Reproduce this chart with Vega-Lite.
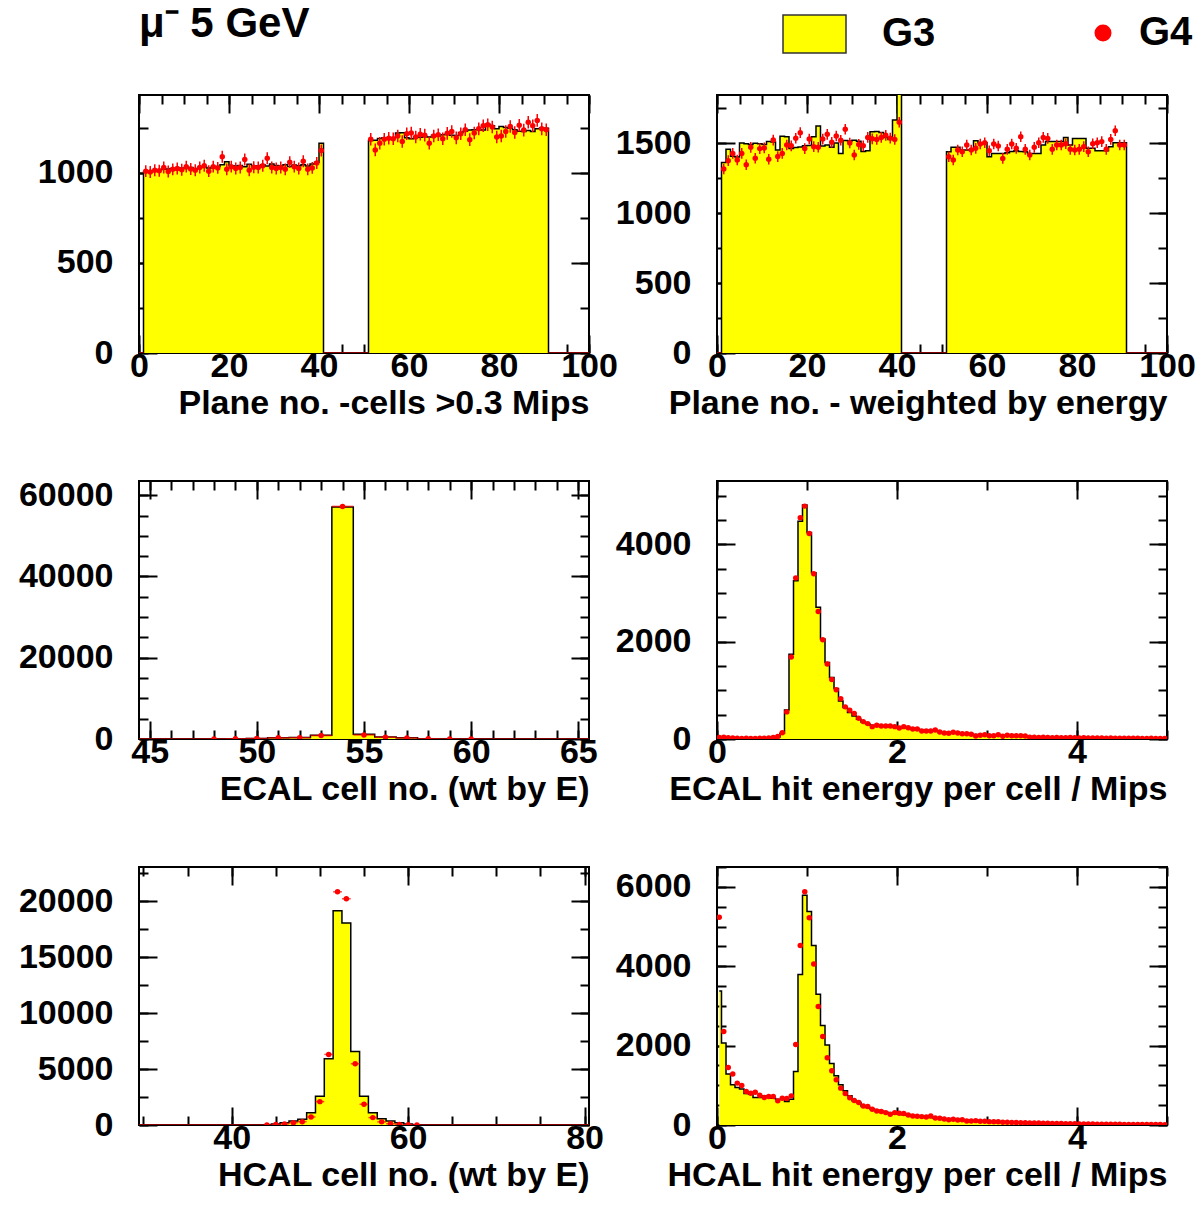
{
"$schema": "https://vega.github.io/schema/vega-lite/v6.json",
"background": "white",
"padding": {"left": 17, "top": 0, "right": 5, "bottom": 5},
"config": {
 "view": {"stroke": "black", "strokeWidth": 2},
 "numberFormat": "d",
 "axis": {"domain": false, "grid": false, "labelFont": "Liberation Sans", "labelFontWeight": "bold", "labelFontSize": 34, "labelColor": "black", "titleFont": "Liberation Sans", "titleFontWeight": "bold", "titleFontSize": 34, "titleColor": "black", "tickColor": "black", "tickWidth": 2, "labelFlush": false, "labelOverlap": false}
},
"datasets": {
"p1": [
{"x":0.5,"a":0,"b":0},
{"x":1.5,"a":1005,"b":1010,"l":977,"h":1043},{"x":2.5,"a":1008,"b":1005,"l":972,"h":1038},{"x":3.5,"a":1012,"b":1015,"l":982,"h":1048},{"x":4.5,"a":1015,"b":1012,"l":979,"h":1045},{"x":5.5,"a":1020,"b":1030,"l":997,"h":1063},{"x":6.5,"a":1022,"b":1008,"l":975,"h":1041},{"x":7.5,"a":1025,"b":1020,"l":987,"h":1053},{"x":8.5,"a":1018,"b":1025,"l":992,"h":1058},{"x":9.5,"a":1028,"b":1018,"l":985,"h":1051},{"x":10.5,"a":1025,"b":1035,"l":1002,"h":1068},
{"x":11.5,"a":1030,"b":1022,"l":989,"h":1055},{"x":12.5,"a":1022,"b":1015,"l":982,"h":1048},{"x":13.5,"a":1030,"b":1030,"l":997,"h":1063},{"x":14.5,"a":1035,"b":1040,"l":1007,"h":1073},{"x":15.5,"a":1028,"b":1010,"l":977,"h":1043},{"x":16.5,"a":1032,"b":1035,"l":1002,"h":1068},{"x":17.5,"a":1036,"b":1028,"l":995,"h":1061},{"x":18.5,"a":1045,"b":1090,"l":1057,"h":1123},{"x":19.5,"a":1062,"b":1020,"l":987,"h":1053},{"x":20.5,"a":1040,"b":1035,"l":1002,"h":1068},
{"x":21.5,"a":1038,"b":1025,"l":992,"h":1058},{"x":22.5,"a":1042,"b":1030,"l":997,"h":1063},{"x":23.5,"a":1035,"b":1075,"l":1042,"h":1108},{"x":24.5,"a":1048,"b":1015,"l":982,"h":1048},{"x":25.5,"a":1036,"b":1032,"l":999,"h":1065},{"x":26.5,"a":1040,"b":1030,"l":997,"h":1063},{"x":27.5,"a":1045,"b":1040,"l":1007,"h":1073},{"x":28.5,"a":1038,"b":1082,"l":1049,"h":1115},{"x":29.5,"a":1050,"b":1030,"l":997,"h":1063},{"x":30.5,"a":1042,"b":1025,"l":992,"h":1058},
{"x":31.5,"a":1040,"b":1030,"l":997,"h":1063},{"x":32.5,"a":1045,"b":1020,"l":987,"h":1053},{"x":33.5,"a":1036,"b":1060,"l":1027,"h":1093},{"x":34.5,"a":1044,"b":1035,"l":1002,"h":1068},{"x":35.5,"a":1040,"b":1025,"l":992,"h":1058},{"x":36.5,"a":1046,"b":1065,"l":1032,"h":1098},{"x":37.5,"a":1038,"b":1020,"l":987,"h":1053},{"x":38.5,"a":1050,"b":1028,"l":995,"h":1061},{"x":39.5,"a":1060,"b":1055,"l":1022,"h":1088},{"x":40.5,"a":1165,"b":1125,"l":1092,"h":1158},
{"x":41.5,"a":0,"b":0},{"x":42.5,"a":0,"b":0},{"x":43.5,"a":0,"b":0},{"x":44.5,"a":0,"b":0},{"x":45.5,"a":0,"b":0},{"x":46.5,"a":0,"b":0},{"x":47.5,"a":0,"b":0},{"x":48.5,"a":0,"b":0},{"x":49.5,"a":0,"b":0},{"x":50.5,"a":0,"b":0},
{"x":51.5,"a":1180,"b":1187,"l":1152,"h":1222},{"x":52.5,"a":1182,"b":1128,"l":1093,"h":1163},{"x":53.5,"a":1192,"b":1165,"l":1130,"h":1200},{"x":54.5,"a":1195,"b":1187,"l":1152,"h":1222},{"x":55.5,"a":1194,"b":1193,"l":1158,"h":1228},{"x":56.5,"a":1196,"b":1190,"l":1155,"h":1225},{"x":57.5,"a":1222,"b":1205,"l":1170,"h":1240},{"x":58.5,"a":1224,"b":1175,"l":1140,"h":1210},{"x":59.5,"a":1195,"b":1218,"l":1183,"h":1253},{"x":60.5,"a":1190,"b":1222,"l":1187,"h":1257},
{"x":61.5,"a":1200,"b":1200,"l":1165,"h":1235},{"x":62.5,"a":1198,"b":1215,"l":1180,"h":1250},{"x":63.5,"a":1202,"b":1210,"l":1175,"h":1245},{"x":64.5,"a":1200,"b":1165,"l":1130,"h":1200},{"x":65.5,"a":1210,"b":1205,"l":1170,"h":1240},{"x":66.5,"a":1205,"b":1212,"l":1177,"h":1247},{"x":67.5,"a":1212,"b":1190,"l":1155,"h":1225},{"x":68.5,"a":1215,"b":1220,"l":1185,"h":1255},{"x":69.5,"a":1210,"b":1230,"l":1195,"h":1265},{"x":70.5,"a":1208,"b":1195,"l":1160,"h":1230},
{"x":71.5,"a":1225,"b":1218,"l":1183,"h":1253},{"x":72.5,"a":1232,"b":1240,"l":1205,"h":1275},{"x":73.5,"a":1238,"b":1185,"l":1150,"h":1220},{"x":74.5,"a":1240,"b":1222,"l":1187,"h":1257},{"x":75.5,"a":1242,"b":1245,"l":1210,"h":1280},{"x":76.5,"a":1238,"b":1262,"l":1227,"h":1297},{"x":77.5,"a":1270,"b":1268,"l":1233,"h":1303},{"x":78.5,"a":1262,"b":1255,"l":1220,"h":1290},{"x":79.5,"a":1245,"b":1200,"l":1165,"h":1235},{"x":80.5,"a":1258,"b":1205,"l":1170,"h":1240},
{"x":81.5,"a":1252,"b":1230,"l":1195,"h":1265},{"x":82.5,"a":1248,"b":1258,"l":1223,"h":1293},{"x":83.5,"a":1240,"b":1225,"l":1190,"h":1260},{"x":84.5,"a":1232,"b":1265,"l":1230,"h":1300},{"x":85.5,"a":1230,"b":1238,"l":1203,"h":1273},{"x":86.5,"a":1236,"b":1282,"l":1247,"h":1317},{"x":87.5,"a":1230,"b":1262,"l":1227,"h":1297},{"x":88.5,"a":1245,"b":1292,"l":1257,"h":1327},{"x":89.5,"a":1250,"b":1245,"l":1210,"h":1280},{"x":90.5,"a":1248,"b":1240,"l":1205,"h":1275},
{"x":91.5,"a":0,"b":0},{"x":92.5,"a":0,"b":0},{"x":93.5,"a":0,"b":0},{"x":94.5,"a":0,"b":0},{"x":95.5,"a":0,"b":0},{"x":96.5,"a":0,"b":0},{"x":97.5,"a":0,"b":0},{"x":98.5,"a":0,"b":0},{"x":99.5,"a":0,"b":0}
],
"p2": [
{"x":0.5,"a":0,"b":0},
{"x":1.5,"a":1360,"b":1314,"l":1276,"h":1352},{"x":2.5,"a":1455,"b":1374,"l":1336,"h":1412},{"x":3.5,"a":1405,"b":1426,"l":1388,"h":1464},{"x":4.5,"a":1400,"b":1379,"l":1341,"h":1417},{"x":5.5,"a":1500,"b":1426,"l":1388,"h":1464},{"x":6.5,"a":1495,"b":1345,"l":1307,"h":1383},{"x":7.5,"a":1490,"b":1469,"l":1431,"h":1507},{"x":8.5,"a":1498,"b":1391,"l":1353,"h":1429},{"x":9.5,"a":1495,"b":1460,"l":1422,"h":1498},{"x":10.5,"a":1490,"b":1465,"l":1427,"h":1503},
{"x":11.5,"a":1510,"b":1384,"l":1346,"h":1422},{"x":12.5,"a":1508,"b":1521,"l":1483,"h":1559},{"x":13.5,"a":1450,"b":1403,"l":1365,"h":1441},{"x":14.5,"a":1548,"b":1426,"l":1388,"h":1464},{"x":15.5,"a":1545,"b":1486,"l":1448,"h":1524},{"x":16.5,"a":1460,"b":1480,"l":1442,"h":1518},{"x":17.5,"a":1468,"b":1534,"l":1496,"h":1572},{"x":18.5,"a":1472,"b":1574,"l":1536,"h":1612},{"x":19.5,"a":1480,"b":1460,"l":1422,"h":1498},{"x":20.5,"a":1482,"b":1529,"l":1491,"h":1567},
{"x":21.5,"a":1545,"b":1474,"l":1436,"h":1512},{"x":22.5,"a":1622,"b":1470,"l":1432,"h":1508},{"x":23.5,"a":1478,"b":1528,"l":1490,"h":1566},{"x":24.5,"a":1485,"b":1562,"l":1524,"h":1600},{"x":25.5,"a":1470,"b":1505,"l":1467,"h":1543},{"x":26.5,"a":1500,"b":1550,"l":1512,"h":1588},{"x":27.5,"a":1425,"b":1520,"l":1482,"h":1558},{"x":28.5,"a":1518,"b":1598,"l":1560,"h":1636},{"x":29.5,"a":1515,"b":1500,"l":1462,"h":1538},{"x":30.5,"a":1520,"b":1414,"l":1376,"h":1452},
{"x":31.5,"a":1512,"b":1490,"l":1452,"h":1528},{"x":32.5,"a":1440,"b":1480,"l":1442,"h":1518},{"x":33.5,"a":1445,"b":1540,"l":1502,"h":1578},{"x":34.5,"a":1580,"b":1530,"l":1492,"h":1568},{"x":35.5,"a":1582,"b":1525,"l":1487,"h":1563},{"x":36.5,"a":1575,"b":1540,"l":1502,"h":1578},{"x":37.5,"a":1540,"b":1555,"l":1517,"h":1593},{"x":38.5,"a":1525,"b":1535,"l":1497,"h":1573},{"x":39.5,"a":1665,"b":1525,"l":1487,"h":1563},{"x":40.5,"a":1950,"b":1648,"l":1610,"h":1686},
{"x":41.5,"a":0,"b":0},{"x":42.5,"a":0,"b":0},{"x":43.5,"a":0,"b":0},{"x":44.5,"a":0,"b":0},{"x":45.5,"a":0,"b":0},{"x":46.5,"a":0,"b":0},{"x":47.5,"a":0,"b":0},{"x":48.5,"a":0,"b":0},{"x":49.5,"a":0,"b":0},{"x":50.5,"a":0,"b":0},
{"x":51.5,"a":1438,"b":1402,"l":1364,"h":1440},{"x":52.5,"a":1469,"b":1379,"l":1341,"h":1417},{"x":53.5,"a":1469,"b":1450,"l":1412,"h":1488},{"x":54.5,"a":1450,"b":1438,"l":1400,"h":1476},{"x":55.5,"a":1450,"b":1486,"l":1448,"h":1524},{"x":56.5,"a":1450,"b":1450,"l":1412,"h":1488},{"x":57.5,"a":1517,"b":1462,"l":1424,"h":1500},{"x":58.5,"a":1502,"b":1493,"l":1455,"h":1531},{"x":59.5,"a":1502,"b":1502,"l":1464,"h":1540},{"x":60.5,"a":1402,"b":1445,"l":1407,"h":1483},
{"x":61.5,"a":1426,"b":1493,"l":1455,"h":1531},{"x":62.5,"a":1426,"b":1479,"l":1441,"h":1517},{"x":63.5,"a":1426,"b":1390,"l":1352,"h":1428},{"x":64.5,"a":1431,"b":1455,"l":1417,"h":1493},{"x":65.5,"a":1440,"b":1493,"l":1455,"h":1531},{"x":66.5,"a":1445,"b":1462,"l":1424,"h":1500},{"x":67.5,"a":1440,"b":1545,"l":1507,"h":1583},{"x":68.5,"a":1438,"b":1455,"l":1417,"h":1493},{"x":69.5,"a":1426,"b":1414,"l":1376,"h":1452},{"x":70.5,"a":1426,"b":1469,"l":1431,"h":1507},
{"x":71.5,"a":1426,"b":1502,"l":1464,"h":1540},{"x":72.5,"a":1486,"b":1540,"l":1502,"h":1578},{"x":73.5,"a":1510,"b":1533,"l":1495,"h":1571},{"x":74.5,"a":1510,"b":1455,"l":1417,"h":1493},{"x":75.5,"a":1510,"b":1486,"l":1448,"h":1524},{"x":76.5,"a":1510,"b":1486,"l":1448,"h":1524},{"x":77.5,"a":1540,"b":1495,"l":1457,"h":1533},{"x":78.5,"a":1486,"b":1455,"l":1417,"h":1493},{"x":79.5,"a":1533,"b":1450,"l":1412,"h":1488},{"x":80.5,"a":1533,"b":1455,"l":1417,"h":1493},
{"x":81.5,"a":1533,"b":1474,"l":1436,"h":1512},{"x":82.5,"a":1462,"b":1438,"l":1400,"h":1476},{"x":83.5,"a":1462,"b":1495,"l":1457,"h":1533},{"x":84.5,"a":1445,"b":1502,"l":1464,"h":1540},{"x":85.5,"a":1445,"b":1510,"l":1472,"h":1548},{"x":86.5,"a":1445,"b":1455,"l":1417,"h":1493},{"x":87.5,"a":1474,"b":1526,"l":1488,"h":1564},{"x":88.5,"a":1502,"b":1588,"l":1550,"h":1626},{"x":89.5,"a":1502,"b":1486,"l":1448,"h":1524},{"x":90.5,"a":1502,"b":1486,"l":1448,"h":1524},
{"x":91.5,"a":0,"b":0},{"x":92.5,"a":0,"b":0},{"x":93.5,"a":0,"b":0},{"x":94.5,"a":0,"b":0},{"x":95.5,"a":0,"b":0},{"x":96.5,"a":0,"b":0},{"x":97.5,"a":0,"b":0},{"x":98.5,"a":0,"b":0},{"x":99.5,"a":0,"b":0}
],
"p3": [
{"x":45,"a":0,"b":0},{"x":46,"a":0,"b":0},{"x":47,"a":0,"b":0},{"x":48,"a":30,"b":20},{"x":49,"a":60,"b":50},{"x":50,"a":150,"b":120},{"x":51,"a":300,"b":280},{"x":52,"a":350,"b":320},{"x":53,"a":900,"b":850},{"x":54,"a":57100,"b":57250},{"x":55,"a":1150,"b":1000},{"x":56,"a":500,"b":450},{"x":57,"a":300,"b":250},{"x":58,"a":80,"b":70},{"x":59,"a":30,"b":25},{"x":60,"a":10,"b":10},{"x":61,"a":0,"b":0},{"x":62,"a":0,"b":0},{"x":63,"a":0,"b":0},{"x":64,"a":0,"b":0},{"x":65,"a":0,"b":0}
],
"p4": [
{"x":0.025,"a":20,"b":30},{"x":0.075,"a":25,"b":35},{"x":0.125,"a":20,"b":25},{"x":0.175,"a":15,"b":20},{"x":0.225,"a":10,"b":15},{"x":0.275,"a":10,"b":12},{"x":0.325,"a":15,"b":15},{"x":0.375,"a":10,"b":12},{"x":0.425,"a":10,"b":10},{"x":0.475,"a":12,"b":15},
{"x":0.525,"a":15,"b":18},{"x":0.575,"a":20,"b":22},{"x":0.625,"a":25,"b":30},{"x":0.675,"a":40,"b":50},{"x":0.725,"a":117,"b":130},{"x":0.775,"a":598,"b":557},{"x":0.825,"a":1739,"b":1684},{"x":0.875,"a":3251,"b":3306},{"x":0.925,"a":4475,"b":4544},{"x":0.975,"a":4805,"b":4784},
{"x":1.025,"a":4241,"b":4220},{"x":1.075,"a":3416,"b":3396},{"x":1.125,"a":2708,"b":2619},{"x":1.175,"a":2055,"b":2041},{"x":1.225,"a":1574,"b":1540},{"x":1.275,"a":1264,"b":1223},{"x":1.325,"a":1037,"b":1010},{"x":1.375,"a":783,"b":825},{"x":1.425,"a":646,"b":660},{"x":1.475,"a":543,"b":591},
{"x":1.525,"a":474,"b":522},{"x":1.575,"a":406,"b":426},{"x":1.625,"a":350,"b":357},{"x":1.675,"a":310,"b":316},{"x":1.725,"a":280,"b":254},{"x":1.775,"a":270,"b":282},{"x":1.825,"a":265,"b":268},{"x":1.875,"a":262,"b":268},{"x":1.925,"a":260,"b":268},{"x":1.975,"a":250,"b":254},
{"x":2.025,"a":240,"b":225},{"x":2.075,"a":238,"b":254},{"x":2.125,"a":232,"b":233},{"x":2.175,"a":215,"b":206},{"x":2.225,"a":205,"b":206},{"x":2.275,"a":190,"b":165},{"x":2.325,"a":180,"b":165},{"x":2.375,"a":172,"b":165},{"x":2.425,"a":165,"b":186},{"x":2.475,"a":150,"b":144},
{"x":2.525,"a":140,"b":124},{"x":2.575,"a":132,"b":117},{"x":2.625,"a":125,"b":137},{"x":2.675,"a":118,"b":124},{"x":2.725,"a":110,"b":110},{"x":2.775,"a":104,"b":110},{"x":2.825,"a":98,"b":96},{"x":2.875,"a":92,"b":62},{"x":2.925,"a":87,"b":76},{"x":2.975,"a":82,"b":89},
{"x":3.025,"a":78,"b":69},{"x":3.075,"a":74,"b":69},{"x":3.125,"a":70,"b":89},{"x":3.175,"a":66,"b":55},{"x":3.225,"a":62,"b":76},{"x":3.275,"a":59,"b":69},{"x":3.325,"a":56,"b":69},{"x":3.375,"a":53,"b":69},{"x":3.425,"a":50,"b":62},{"x":3.475,"a":47,"b":34},
{"x":3.525,"a":44,"b":35},{"x":3.575,"a":42,"b":33},{"x":3.625,"a":40,"b":38},{"x":3.675,"a":38,"b":30},{"x":3.725,"a":36,"b":28},{"x":3.775,"a":35,"b":32},{"x":3.825,"a":34,"b":27},{"x":3.875,"a":32,"b":25},{"x":3.925,"a":31,"b":29},{"x":3.975,"a":30,"b":24},
{"x":4.025,"a":29,"b":22},{"x":4.075,"a":28,"b":26},{"x":4.125,"a":27,"b":21},{"x":4.175,"a":26,"b":20},{"x":4.225,"a":25,"b":23},{"x":4.275,"a":24,"b":19},{"x":4.325,"a":23,"b":18},{"x":4.375,"a":22,"b":20},{"x":4.425,"a":21,"b":17},{"x":4.475,"a":20,"b":16},
{"x":4.525,"a":20,"b":18},{"x":4.575,"a":19,"b":15},{"x":4.625,"a":18,"b":14},{"x":4.675,"a":17,"b":16},{"x":4.725,"a":16,"b":13},{"x":4.775,"a":15,"b":12},{"x":4.825,"a":15,"b":14},{"x":4.875,"a":14,"b":11},{"x":4.925,"a":13,"b":10},{"x":4.975,"a":12,"b":12}
],
"p5": [
{"x":30,"a":0,"b":0},{"x":31,"a":0,"b":0},{"x":32,"a":0,"b":0},{"x":33,"a":0,"b":0},{"x":34,"a":0,"b":0},{"x":35,"a":0,"b":0},{"x":36,"a":0,"b":0},{"x":37,"a":0,"b":0},{"x":38,"a":0,"b":0},{"x":39,"a":0,"b":0},
{"x":40,"a":0,"b":0},{"x":41,"a":0,"b":0},{"x":42,"a":0,"b":0},{"x":43,"a":0,"b":0},{"x":44,"a":20,"b":10},{"x":45,"a":80,"b":40},{"x":46,"a":200,"b":100},{"x":47,"a":360,"b":200},{"x":48,"a":510,"b":300},{"x":49,"a":1100,"b":720},
{"x":50,"a":2575,"b":2090},{"x":51,"a":5920,"b":6310},{"x":52,"a":19150,"b":20850},{"x":53,"a":18070,"b":20230},{"x":54,"a":6580,"b":5475},{"x":55,"a":2575,"b":1855},{"x":56,"a":1100,"b":660},{"x":57,"a":570,"b":280},{"x":58,"a":360,"b":120},{"x":59,"a":200,"b":50},
{"x":60,"a":80,"b":20},{"x":61,"a":30,"b":10},{"x":62,"a":0,"b":0},{"x":63,"a":0,"b":0},{"x":64,"a":0,"b":0},{"x":65,"a":0,"b":0},{"x":66,"a":0,"b":0},{"x":67,"a":0,"b":0},{"x":68,"a":0,"b":0},{"x":69,"a":0,"b":0},
{"x":70,"a":0,"b":0},{"x":71,"a":0,"b":0},{"x":72,"a":0,"b":0},{"x":73,"a":0,"b":0},{"x":74,"a":0,"b":0},{"x":75,"a":0,"b":0},{"x":76,"a":0,"b":0},{"x":77,"a":0,"b":0},{"x":78,"a":0,"b":0},{"x":79,"a":0,"b":0},{"x":80,"a":0,"b":0}
],
"p6": [
{"x":0.025,"a":3376,"b":5233},{"x":0.075,"a":2068,"b":2355},{"x":0.125,"a":1283,"b":1451},{"x":0.175,"a":1013,"b":1283},{"x":0.225,"a":945,"b":1055},{"x":0.275,"a":904,"b":996},{"x":0.325,"a":793,"b":843},{"x":0.375,"a":777,"b":802},{"x":0.425,"a":692,"b":827},{"x":0.475,"a":692,"b":751},
{"x":0.525,"a":734,"b":692},{"x":0.575,"a":734,"b":717},{"x":0.625,"a":675,"b":717},{"x":0.675,"a":650,"b":608},{"x":0.725,"a":650,"b":675},{"x":0.775,"a":591,"b":667},{"x":0.825,"a":650,"b":734},{"x":0.875,"a":1350,"b":2026},{"x":0.925,"a":3790,"b":4524},{"x":0.975,"a":5790,"b":5874},
{"x":1.025,"a":5376,"b":5224},{"x":1.075,"a":4524,"b":4059},{"x":1.125,"a":3292,"b":2988},{"x":1.175,"a":2507,"b":2228},{"x":1.225,"a":2018,"b":1696},{"x":1.275,"a":1552,"b":1367},{"x":1.325,"a":1241,"b":1139},{"x":1.375,"a":1013,"b":929},{"x":1.425,"a":861,"b":793},{"x":1.475,"a":734,"b":684},
{"x":1.525,"a":608,"b":616},{"x":1.575,"a":565,"b":565},{"x":1.625,"a":481,"b":481},{"x":1.675,"a":440,"b":464},{"x":1.725,"a":400,"b":397},{"x":1.775,"a":370,"b":354},{"x":1.825,"a":345,"b":338},{"x":1.875,"a":320,"b":312},{"x":1.925,"a":300,"b":270},{"x":1.975,"a":285,"b":312},
{"x":2.025,"a":275,"b":295},{"x":2.075,"a":260,"b":287},{"x":2.125,"a":245,"b":253},{"x":2.175,"a":232,"b":228},{"x":2.225,"a":220,"b":219},{"x":2.275,"a":208,"b":211},{"x":2.325,"a":198,"b":203},{"x":2.375,"a":188,"b":228},{"x":2.425,"a":178,"b":177},{"x":2.475,"a":168,"b":169},
{"x":2.525,"a":158,"b":152},{"x":2.575,"a":150,"b":135},{"x":2.625,"a":142,"b":143},{"x":2.675,"a":134,"b":127},{"x":2.725,"a":127,"b":135},{"x":2.775,"a":120,"b":101},{"x":2.825,"a":114,"b":101},{"x":2.875,"a":108,"b":110},{"x":2.925,"a":102,"b":95},{"x":2.975,"a":97,"b":93},
{"x":3.025,"a":92,"b":85},{"x":3.075,"a":87,"b":80},{"x":3.125,"a":83,"b":82},{"x":3.175,"a":79,"b":70},{"x":3.225,"a":75,"b":72},{"x":3.275,"a":71,"b":66},{"x":3.325,"a":67,"b":62},{"x":3.375,"a":64,"b":60},{"x":3.425,"a":61,"b":55},{"x":3.475,"a":58,"b":52},
{"x":3.525,"a":55,"b":50},{"x":3.575,"a":52,"b":48},{"x":3.625,"a":49,"b":44},{"x":3.675,"a":46,"b":42},{"x":3.725,"a":44,"b":40},{"x":3.775,"a":42,"b":37},{"x":3.825,"a":40,"b":35},{"x":3.875,"a":38,"b":34},{"x":3.925,"a":36,"b":32},{"x":3.975,"a":34,"b":30},
{"x":4.025,"a":32,"b":28},{"x":4.075,"a":30,"b":27},{"x":4.125,"a":28,"b":25},{"x":4.175,"a":27,"b":24},{"x":4.225,"a":25,"b":22},{"x":4.275,"a":24,"b":21},{"x":4.325,"a":23,"b":20},{"x":4.375,"a":22,"b":19},{"x":4.425,"a":21,"b":18},{"x":4.475,"a":20,"b":17},
{"x":4.525,"a":19,"b":16},{"x":4.575,"a":18,"b":15},{"x":4.625,"a":17,"b":14},{"x":4.675,"a":16,"b":13},{"x":4.725,"a":15,"b":12},{"x":4.775,"a":14,"b":12},{"x":4.825,"a":13,"b":11},{"x":4.875,"a":12,"b":10},{"x":4.925,"a":11,"b":10},{"x":4.975,"a":10,"b":9}
]
},
"columns": 2,
"spacing": 128,
"bounds": "flush",
"resolve": {"scale": {"color": "independent", "shape": "independent"}, "legend": {"color": "independent", "shape": "independent"}},
"concat": [
{
 "width": 450, "height": 258,
 "data": {"name": "p1"},
 "title": {"text": "μ⁻ 5 GeV", "anchor": "start", "frame": "group", "font": "Liberation Sans", "fontSize": 42, "fontWeight": "bold", "color": "black", "baseline": "alphabetic", "offset": 15},
 "resolve": {"axis": {"x": "independent", "y": "independent"}},
 "layer": [
  {"mark": {"type": "area", "interpolate": "step", "color": "#ffff00", "clip": true},
   "encoding": {
    "x": {"field": "x", "type": "quantitative", "scale": {"domain": [0, 100], "nice": false, "zero": false}, "axis": {"orient": "bottom", "values": [0, 20, 40, 60, 80, 100], "ticks": false, "labelPadding": -4, "format": "d", "title": "Plane no. -cells >0.3 Mips", "titleAnchor": "end", "titleBaseline": "alphabetic", "titleY": 60}},
    "y": {"field": "a", "type": "quantitative", "scale": {"domain": [0, 1433], "nice": false}, "axis": {"orient": "left", "values": [0, 500, 1000], "ticks": false, "labelPadding": 26, "format": "d", "title": null}}}},
  {"mark": {"type": "line", "interpolate": "step", "color": "black", "strokeWidth": 1.5, "clip": true},
   "encoding": {
    "x": {"field": "x", "type": "quantitative", "scale": {"domain": [0, 100], "nice": false, "zero": false}, "axis": {"orient": "bottom", "values": [0, 20, 40, 60, 80, 100], "labels": false, "tickSize": -18, "title": null}},
    "y": {"field": "a", "type": "quantitative", "scale": {"domain": [0, 1433], "nice": false}, "axis": {"orient": "left", "values": [0, 500, 1000], "labels": false, "tickSize": -18, "title": null}}}},
  {"mark": {"type": "tick", "orient": "horizontal", "color": "red", "size": 4.5, "thickness": 1.5, "clip": true},
   "encoding": {
    "x": {"field": "x", "type": "quantitative", "scale": {"domain": [0, 100], "nice": false, "zero": false}, "axis": {"orient": "bottom", "values": [0,5,10,15,20,25,30,35,40,45,50,55,60,65,70,75,80,85,90,95,100], "labels": false, "tickSize": -9, "title": null}},
    "y": {"field": "b", "type": "quantitative", "scale": {"domain": [0, 1433], "nice": false}, "axis": {"orient": "left", "values": [0, 250, 500, 750, 1000, 1250], "labels": false, "tickSize": -9, "title": null}}}},
  {"transform": [{"filter": "isValid(datum.l)"}],
   "mark": {"type": "rule", "color": "red", "strokeWidth": 1.5, "clip": true},
   "encoding": {
    "x": {"field": "x", "type": "quantitative", "scale": {"domain": [0, 100], "nice": false, "zero": false}, "axis": {"orient": "top", "values": [0, 20, 40, 60, 80, 100], "labels": false, "tickSize": -18, "title": null}},
    "y": {"field": "l", "type": "quantitative", "scale": {"domain": [0, 1433], "nice": false}, "axis": {"orient": "right", "values": [0, 500, 1000], "labels": false, "tickSize": -18, "title": null}},
    "y2": {"field": "h"}}},
  {"transform": [{"filter": "datum.b > 0"}],
   "mark": {"type": "point", "filled": true, "color": "red", "size": 30, "opacity": 1, "clip": true},
   "encoding": {
    "x": {"field": "x", "type": "quantitative", "scale": {"domain": [0, 100], "nice": false, "zero": false}, "axis": {"orient": "top", "values": [0,5,10,15,20,25,30,35,40,45,50,55,60,65,70,75,80,85,90,95,100], "labels": false, "tickSize": -9, "title": null}},
    "y": {"field": "b", "type": "quantitative", "scale": {"domain": [0, 1433], "nice": false}, "axis": {"orient": "right", "values": [0, 250, 500, 750, 1000, 1250], "labels": false, "tickSize": -9, "title": null}}}}
 ]
},
{
 "width": 450, "height": 258,
 "data": {"name": "p2"},
 "resolve": {"axis": {"x": "independent", "y": "independent"}},
 "layer": [
  {"mark": {"type": "area", "interpolate": "step", "color": "#ffff00", "clip": true},
   "encoding": {
    "x": {"field": "x", "type": "quantitative", "scale": {"domain": [0, 100], "nice": false, "zero": false}, "axis": {"orient": "bottom", "values": [0, 20, 40, 60, 80, 100], "ticks": false, "labelPadding": -4, "format": "d", "title": "Plane no. - weighted by energy", "titleAnchor": "end", "titleBaseline": "alphabetic", "titleY": 60}},
    "y": {"field": "a", "type": "quantitative", "stack": null, "scale": {"domain": [0, 1843], "nice": false}, "axis": {"orient": "left", "values": [0, 500, 1000, 1500], "ticks": false, "labelPadding": 26, "format": "d", "title": null}},
    "color": {"datum": "G3", "type": "nominal", "scale": {"domain": ["G3"], "range": ["#ffff00"]}, "legend": {"orient": "none", "legendX": 65, "legendY": -93.5, "title": null, "symbolType": "M-1,-0.6H1V0.6H-1Z", "symbolSize": 3969, "labelFont": "Liberation Sans", "labelFontWeight": "bold", "labelFontSize": 40, "labelColor": "black", "labelOffset": 35, "padding": 0, "encode": {"symbols": {"update": {"fill": {"value": "#ffff00"}, "stroke": {"value": "#333333"}, "strokeWidth": {"value": 1.5}, "opacity": {"value": 1}}}}}}}},
  {"mark": {"type": "line", "interpolate": "step", "color": "black", "strokeWidth": 1.5, "clip": true},
   "encoding": {
    "x": {"field": "x", "type": "quantitative", "scale": {"domain": [0, 100], "nice": false, "zero": false}, "axis": {"orient": "bottom", "values": [0, 20, 40, 60, 80, 100], "labels": false, "tickSize": -18, "title": null}},
    "y": {"field": "a", "type": "quantitative", "scale": {"domain": [0, 1843], "nice": false}, "axis": {"orient": "left", "values": [0, 500, 1000, 1500], "labels": false, "tickSize": -18, "title": null}}}},
  {"mark": {"type": "tick", "orient": "horizontal", "color": "red", "size": 4.5, "thickness": 1.5, "clip": true},
   "encoding": {
    "x": {"field": "x", "type": "quantitative", "scale": {"domain": [0, 100], "nice": false, "zero": false}, "axis": {"orient": "bottom", "values": [0,5,10,15,20,25,30,35,40,45,50,55,60,65,70,75,80,85,90,95,100], "labels": false, "tickSize": -9, "title": null}},
    "y": {"field": "b", "type": "quantitative", "scale": {"domain": [0, 1843], "nice": false}, "axis": {"orient": "left", "values": [0, 250, 500, 750, 1000, 1250, 1500, 1750], "labels": false, "tickSize": -9, "title": null}}}},
  {"transform": [{"filter": "isValid(datum.l)"}],
   "mark": {"type": "rule", "color": "red", "strokeWidth": 1.5, "clip": true},
   "encoding": {
    "x": {"field": "x", "type": "quantitative", "scale": {"domain": [0, 100], "nice": false, "zero": false}, "axis": {"orient": "top", "values": [0, 20, 40, 60, 80, 100], "labels": false, "tickSize": -18, "title": null}},
    "y": {"field": "l", "type": "quantitative", "scale": {"domain": [0, 1843], "nice": false}, "axis": {"orient": "right", "values": [0, 500, 1000, 1500], "labels": false, "tickSize": -18, "title": null}},
    "y2": {"field": "h"}}},
  {"transform": [{"filter": "datum.b > 0"}],
   "mark": {"type": "point", "filled": true, "color": "red", "size": 30, "opacity": 1, "clip": true},
   "encoding": {
    "x": {"field": "x", "type": "quantitative", "scale": {"domain": [0, 100], "nice": false, "zero": false}, "axis": {"orient": "top", "values": [0,5,10,15,20,25,30,35,40,45,50,55,60,65,70,75,80,85,90,95,100], "labels": false, "tickSize": -9, "title": null}},
    "y": {"field": "b", "type": "quantitative", "scale": {"domain": [0, 1843], "nice": false}, "axis": {"orient": "right", "values": [0, 250, 500, 750, 1000, 1250, 1500, 1750], "labels": false, "tickSize": -9, "title": null}},
    "shape": {"datum": "G4", "type": "nominal", "scale": {"domain": ["G4"], "range": ["circle"]}, "legend": {"orient": "none", "legendX": 366, "legendY": -82, "title": null, "symbolSize": 289, "labelFont": "Liberation Sans", "labelFontWeight": "bold", "labelFontSize": 40, "labelColor": "black", "labelOffset": 16, "padding": 0, "encode": {"symbols": {"update": {"fill": {"value": "red"}, "stroke": {"value": "red"}, "opacity": {"value": 1}}}}}}}}
 ]
},
{
 "width": 450, "height": 258,
 "data": {"name": "p3"},
 "resolve": {"axis": {"x": "independent", "y": "independent"}},
 "layer": [
  {"mark": {"type": "area", "interpolate": "step", "color": "#ffff00", "clip": true},
   "encoding": {
    "x": {"field": "x", "type": "quantitative", "scale": {"domain": [44.5, 65.5], "nice": false, "zero": false}, "axis": {"orient": "bottom", "values": [45, 50, 55, 60, 65], "ticks": false, "labelPadding": -4, "format": "d", "title": "ECAL cell no. (wt by E)", "titleAnchor": "end", "titleBaseline": "alphabetic", "titleY": 60}},
    "y": {"field": "a", "type": "quantitative", "scale": {"domain": [0, 63500], "nice": false}, "axis": {"orient": "left", "values": [0, 20000, 40000, 60000], "ticks": false, "labelPadding": 26, "format": "d", "title": null}}}},
  {"mark": {"type": "line", "interpolate": "step", "color": "black", "strokeWidth": 1.5, "clip": true},
   "encoding": {
    "x": {"field": "x", "type": "quantitative", "scale": {"domain": [44.5, 65.5], "nice": false, "zero": false}, "axis": {"orient": "bottom", "values": [45, 50, 55, 60, 65], "labels": false, "tickSize": -18, "title": null}},
    "y": {"field": "a", "type": "quantitative", "scale": {"domain": [0, 63500], "nice": false}, "axis": {"orient": "left", "values": [0, 20000, 40000, 60000], "labels": false, "tickSize": -18, "title": null}}}},
  {"mark": {"type": "tick", "orient": "horizontal", "color": "red", "size": 21.4, "thickness": 1.5, "clip": true},
   "encoding": {
    "x": {"field": "x", "type": "quantitative", "scale": {"domain": [44.5, 65.5], "nice": false, "zero": false}, "axis": {"orient": "bottom", "values": [45,46,47,48,49,50,51,52,53,54,55,56,57,58,59,60,61,62,63,64,65], "labels": false, "tickSize": -9, "title": null}},
    "y": {"field": "b", "type": "quantitative", "scale": {"domain": [0, 63500], "nice": false}, "axis": {"orient": "left", "values": [0,5000,10000,15000,20000,25000,30000,35000,40000,45000,50000,55000,60000], "labels": false, "tickSize": -9, "title": null}}}},
  {"mark": {"type": "tick", "orient": "horizontal", "opacity": 0, "size": 1},
   "encoding": {
    "x": {"field": "x", "type": "quantitative", "scale": {"domain": [44.5, 65.5], "nice": false, "zero": false}, "axis": {"orient": "top", "values": [45, 50, 55, 60, 65], "labels": false, "tickSize": -18, "title": null}},
    "y": {"field": "b", "type": "quantitative", "scale": {"domain": [0, 63500], "nice": false}, "axis": {"orient": "right", "values": [0, 20000, 40000, 60000], "labels": false, "tickSize": -18, "title": null}}}},
  {"transform": [{"filter": "datum.b > 0"}],
   "mark": {"type": "point", "filled": true, "color": "red", "size": 30, "opacity": 1, "clip": true},
   "encoding": {
    "x": {"field": "x", "type": "quantitative", "scale": {"domain": [44.5, 65.5], "nice": false, "zero": false}, "axis": {"orient": "top", "values": [45,46,47,48,49,50,51,52,53,54,55,56,57,58,59,60,61,62,63,64,65], "labels": false, "tickSize": -9, "title": null}},
    "y": {"field": "b", "type": "quantitative", "scale": {"domain": [0, 63500], "nice": false}, "axis": {"orient": "right", "values": [0,5000,10000,15000,20000,25000,30000,35000,40000,45000,50000,55000,60000], "labels": false, "tickSize": -9, "title": null}}}}
 ]
},
{
 "width": 450, "height": 258,
 "data": {"name": "p4"},
 "resolve": {"axis": {"x": "independent", "y": "independent"}},
 "layer": [
  {"mark": {"type": "area", "interpolate": "step", "color": "#ffff00", "clip": true},
   "encoding": {
    "x": {"field": "x", "type": "quantitative", "scale": {"domain": [0, 5], "nice": false, "zero": false}, "axis": {"orient": "bottom", "values": [0, 2, 4], "ticks": false, "labelPadding": -4, "format": "d", "title": "ECAL hit energy per cell / Mips", "titleAnchor": "end", "titleBaseline": "alphabetic", "titleY": 60}},
    "y": {"field": "a", "type": "quantitative", "scale": {"domain": [0, 5300], "nice": false}, "axis": {"orient": "left", "values": [0, 2000, 4000], "ticks": false, "labelPadding": 26, "format": "d", "title": null}}}},
  {"mark": {"type": "line", "interpolate": "step", "color": "black", "strokeWidth": 1.5, "clip": true},
   "encoding": {
    "x": {"field": "x", "type": "quantitative", "scale": {"domain": [0, 5], "nice": false, "zero": false}, "axis": {"orient": "bottom", "values": [0, 2, 4], "labels": false, "tickSize": -18, "title": null}},
    "y": {"field": "a", "type": "quantitative", "scale": {"domain": [0, 5300], "nice": false}, "axis": {"orient": "left", "values": [0, 2000, 4000], "labels": false, "tickSize": -18, "title": null}}}},
  {"mark": {"type": "tick", "orient": "horizontal", "color": "red", "size": 4.5, "thickness": 1.5, "clip": true},
   "encoding": {
    "x": {"field": "x", "type": "quantitative", "scale": {"domain": [0, 5], "nice": false, "zero": false}, "axis": {"orient": "bottom", "values": [0,0.5,1,1.5,2,2.5,3,3.5,4,4.5,5], "labels": false, "tickSize": -9, "title": null}},
    "y": {"field": "b", "type": "quantitative", "scale": {"domain": [0, 5300], "nice": false}, "axis": {"orient": "left", "values": [0,500,1000,1500,2000,2500,3000,3500,4000,4500,5000], "labels": false, "tickSize": -9, "title": null}}}},
  {"mark": {"type": "tick", "orient": "horizontal", "opacity": 0, "size": 1},
   "encoding": {
    "x": {"field": "x", "type": "quantitative", "scale": {"domain": [0, 5], "nice": false, "zero": false}, "axis": {"orient": "top", "values": [0, 2, 4], "labels": false, "tickSize": -18, "title": null}},
    "y": {"field": "b", "type": "quantitative", "scale": {"domain": [0, 5300], "nice": false}, "axis": {"orient": "right", "values": [0, 2000, 4000], "labels": false, "tickSize": -18, "title": null}}}},
  {"transform": [{"filter": "datum.b > 0"}],
   "mark": {"type": "point", "filled": true, "color": "red", "size": 30, "opacity": 1, "clip": true},
   "encoding": {
    "x": {"field": "x", "type": "quantitative", "scale": {"domain": [0, 5], "nice": false, "zero": false}, "axis": {"orient": "top", "values": [0,0.5,1,1.5,2,2.5,3,3.5,4,4.5,5], "labels": false, "tickSize": -9, "title": null}},
    "y": {"field": "b", "type": "quantitative", "scale": {"domain": [0, 5300], "nice": false}, "axis": {"orient": "right", "values": [0,500,1000,1500,2000,2500,3000,3500,4000,4500,5000], "labels": false, "tickSize": -9, "title": null}}}}
 ]
},
{
 "width": 450, "height": 258,
 "data": {"name": "p5"},
 "resolve": {"axis": {"x": "independent", "y": "independent"}},
 "layer": [
  {"mark": {"type": "area", "interpolate": "step", "color": "#ffff00", "clip": true},
   "encoding": {
    "x": {"field": "x", "type": "quantitative", "scale": {"domain": [29.5, 80.5], "nice": false, "zero": false}, "axis": {"orient": "bottom", "values": [40, 60, 80], "ticks": false, "labelPadding": -4, "format": "d", "title": "HCAL cell no. (wt by E)", "titleAnchor": "end", "titleBaseline": "alphabetic", "titleY": 60}},
    "y": {"field": "a", "type": "quantitative", "scale": {"domain": [0, 23070], "nice": false}, "axis": {"orient": "left", "values": [0, 5000, 10000, 15000, 20000], "ticks": false, "labelPadding": 26, "format": "d", "title": null}}}},
  {"mark": {"type": "line", "interpolate": "step", "color": "black", "strokeWidth": 1.5, "clip": true},
   "encoding": {
    "x": {"field": "x", "type": "quantitative", "scale": {"domain": [29.5, 80.5], "nice": false, "zero": false}, "axis": {"orient": "bottom", "values": [40, 60, 80], "labels": false, "tickSize": -18, "title": null}},
    "y": {"field": "a", "type": "quantitative", "scale": {"domain": [0, 23070], "nice": false}, "axis": {"orient": "left", "values": [0, 5000, 10000, 15000, 20000], "labels": false, "tickSize": -18, "title": null}}}},
  {"mark": {"type": "tick", "orient": "horizontal", "color": "red", "size": 8.8, "thickness": 1.5, "clip": true},
   "encoding": {
    "x": {"field": "x", "type": "quantitative", "scale": {"domain": [29.5, 80.5], "nice": false, "zero": false}, "axis": {"orient": "bottom", "values": [30,35,40,45,50,55,60,65,70,75,80], "labels": false, "tickSize": -9, "title": null}},
    "y": {"field": "b", "type": "quantitative", "scale": {"domain": [0, 23070], "nice": false}, "axis": {"orient": "left", "values": [0,2500,5000,7500,10000,12500,15000,17500,20000,22500], "labels": false, "tickSize": -9, "title": null}}}},
  {"mark": {"type": "tick", "orient": "horizontal", "opacity": 0, "size": 1},
   "encoding": {
    "x": {"field": "x", "type": "quantitative", "scale": {"domain": [29.5, 80.5], "nice": false, "zero": false}, "axis": {"orient": "top", "values": [40, 60, 80], "labels": false, "tickSize": -18, "title": null}},
    "y": {"field": "b", "type": "quantitative", "scale": {"domain": [0, 23070], "nice": false}, "axis": {"orient": "right", "values": [0, 5000, 10000, 15000, 20000], "labels": false, "tickSize": -18, "title": null}}}},
  {"transform": [{"filter": "datum.b > 0"}],
   "mark": {"type": "point", "filled": true, "color": "red", "size": 30, "opacity": 1, "clip": true},
   "encoding": {
    "x": {"field": "x", "type": "quantitative", "scale": {"domain": [29.5, 80.5], "nice": false, "zero": false}, "axis": {"orient": "top", "values": [30,35,40,45,50,55,60,65,70,75,80], "labels": false, "tickSize": -9, "title": null}},
    "y": {"field": "b", "type": "quantitative", "scale": {"domain": [0, 23070], "nice": false}, "axis": {"orient": "right", "values": [0,2500,5000,7500,10000,12500,15000,17500,20000,22500], "labels": false, "tickSize": -9, "title": null}}}}
 ]
},
{
 "width": 450, "height": 258,
 "data": {"name": "p6"},
 "resolve": {"axis": {"x": "independent", "y": "independent"}},
 "layer": [
  {"mark": {"type": "area", "interpolate": "step", "color": "#ffff00", "clip": true},
   "encoding": {
    "x": {"field": "x", "type": "quantitative", "scale": {"domain": [0, 5], "nice": false, "zero": false}, "axis": {"orient": "bottom", "values": [0, 2, 4], "ticks": false, "labelPadding": -4, "format": "d", "title": "HCAL hit energy per cell / Mips", "titleAnchor": "end", "titleBaseline": "alphabetic", "titleY": 60}},
    "y": {"field": "a", "type": "quantitative", "scale": {"domain": [0, 6500], "nice": false}, "axis": {"orient": "left", "values": [0, 2000, 4000, 6000], "ticks": false, "labelPadding": 26, "format": "d", "title": null}}}},
  {"mark": {"type": "line", "interpolate": "step", "color": "black", "strokeWidth": 1.5, "clip": true},
   "encoding": {
    "x": {"field": "x", "type": "quantitative", "scale": {"domain": [0, 5], "nice": false, "zero": false}, "axis": {"orient": "bottom", "values": [0, 2, 4], "labels": false, "tickSize": -18, "title": null}},
    "y": {"field": "a", "type": "quantitative", "scale": {"domain": [0, 6500], "nice": false}, "axis": {"orient": "left", "values": [0, 2000, 4000, 6000], "labels": false, "tickSize": -18, "title": null}}}},
  {"mark": {"type": "tick", "orient": "horizontal", "color": "red", "size": 4.5, "thickness": 1.5, "clip": true},
   "encoding": {
    "x": {"field": "x", "type": "quantitative", "scale": {"domain": [0, 5], "nice": false, "zero": false}, "axis": {"orient": "bottom", "values": [0,0.5,1,1.5,2,2.5,3,3.5,4,4.5,5], "labels": false, "tickSize": -9, "title": null}},
    "y": {"field": "b", "type": "quantitative", "scale": {"domain": [0, 6500], "nice": false}, "axis": {"orient": "left", "values": [0,500,1000,1500,2000,2500,3000,3500,4000,4500,5000,5500,6000,6500], "labels": false, "tickSize": -9, "title": null}}}},
  {"mark": {"type": "tick", "orient": "horizontal", "opacity": 0, "size": 1},
   "encoding": {
    "x": {"field": "x", "type": "quantitative", "scale": {"domain": [0, 5], "nice": false, "zero": false}, "axis": {"orient": "top", "values": [0, 2, 4], "labels": false, "tickSize": -18, "title": null}},
    "y": {"field": "b", "type": "quantitative", "scale": {"domain": [0, 6500], "nice": false}, "axis": {"orient": "right", "values": [0, 2000, 4000, 6000], "labels": false, "tickSize": -18, "title": null}}}},
  {"transform": [{"filter": "datum.b > 0"}],
   "mark": {"type": "point", "filled": true, "color": "red", "size": 30, "opacity": 1, "clip": true},
   "encoding": {
    "x": {"field": "x", "type": "quantitative", "scale": {"domain": [0, 5], "nice": false, "zero": false}, "axis": {"orient": "top", "values": [0,0.5,1,1.5,2,2.5,3,3.5,4,4.5,5], "labels": false, "tickSize": -9, "title": null}},
    "y": {"field": "b", "type": "quantitative", "scale": {"domain": [0, 6500], "nice": false}, "axis": {"orient": "right", "values": [0,500,1000,1500,2000,2500,3000,3500,4000,4500,5000,5500,6000,6500], "labels": false, "tickSize": -9, "title": null}}}}
 ]
}
]
}
